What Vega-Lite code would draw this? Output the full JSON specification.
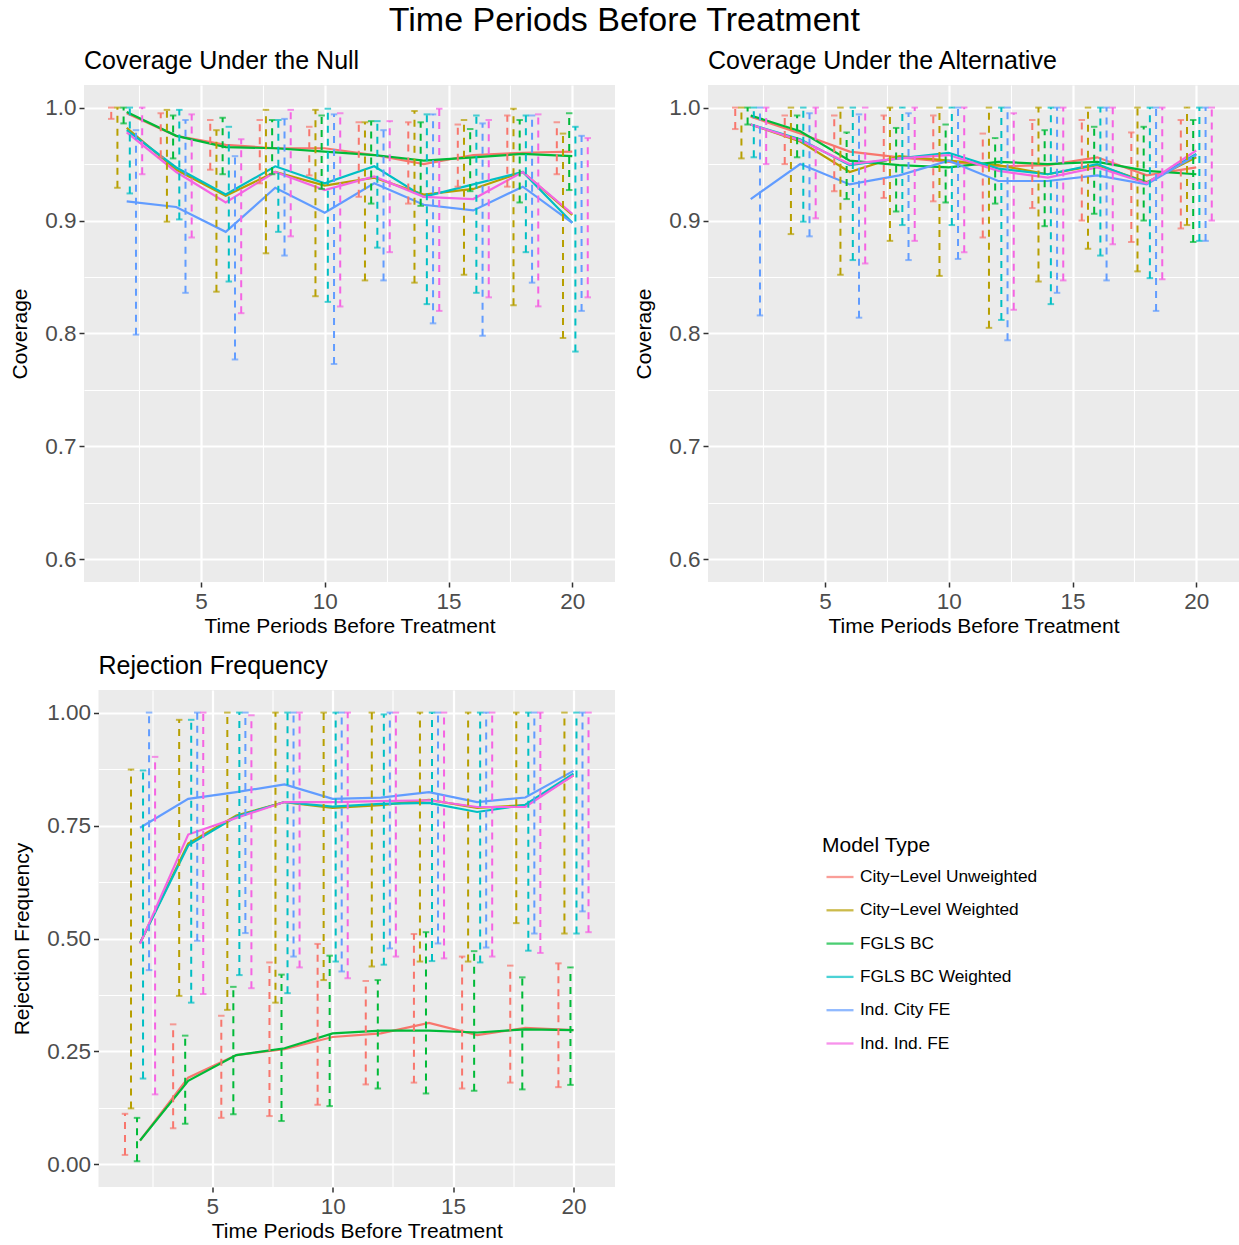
{
  "$schema": "https://vega.github.io/schema/vega-lite/v6.json",
  "padding": {"left": 9, "top": 4, "right": 0, "bottom": 0},
  "background": "white",
  "title": {"text": "Time Periods Before Treatment", "fontSize": 34, "fontWeight": "normal", "color": "black", "anchor": "middle", "offset": 11},
  "datasets": {
    "d": [
      {"p":"N","t":2,"m":"City−Level Unweighted","y":0.995,"lo":0.990,"hi":1.0},
      {"p":"N","t":2,"m":"City−Level Weighted","y":0.982,"lo":0.929,"hi":1.0},
      {"p":"N","t":2,"m":"FGLS BC","y":0.996,"lo":0.986,"hi":1.0},
      {"p":"N","t":2,"m":"FGLS BC Weighted","y":0.980,"lo":0.924,"hi":1.0},
      {"p":"N","t":2,"m":"Ind. City FE","y":0.917,"lo":0.799,"hi":0.980},
      {"p":"N","t":2,"m":"Ind. Ind. FE","y":0.978,"lo":0.941,"hi":1.0},
      {"p":"N","t":4,"m":"City−Level Unweighted","y":0.975,"lo":0.956,"hi":0.995},
      {"p":"N","t":4,"m":"City−Level Weighted","y":0.945,"lo":0.899,"hi":0.998},
      {"p":"N","t":4,"m":"FGLS BC","y":0.975,"lo":0.955,"hi":0.993},
      {"p":"N","t":4,"m":"FGLS BC Weighted","y":0.947,"lo":0.901,"hi":0.998},
      {"p":"N","t":4,"m":"Ind. City FE","y":0.912,"lo":0.836,"hi":0.989},
      {"p":"N","t":4,"m":"Ind. Ind. FE","y":0.943,"lo":0.885,"hi":0.994},
      {"p":"N","t":6,"m":"City−Level Unweighted","y":0.967,"lo":0.945,"hi":0.989},
      {"p":"N","t":6,"m":"City−Level Weighted","y":0.922,"lo":0.837,"hi":0.980},
      {"p":"N","t":6,"m":"FGLS BC","y":0.965,"lo":0.941,"hi":0.991},
      {"p":"N","t":6,"m":"FGLS BC Weighted","y":0.923,"lo":0.846,"hi":0.983},
      {"p":"N","t":6,"m":"Ind. City FE","y":0.890,"lo":0.777,"hi":0.957},
      {"p":"N","t":6,"m":"Ind. Ind. FE","y":0.916,"lo":0.818,"hi":0.972},
      {"p":"N","t":8,"m":"City−Level Unweighted","y":0.964,"lo":0.933,"hi":0.989},
      {"p":"N","t":8,"m":"City−Level Weighted","y":0.943,"lo":0.871,"hi":0.998},
      {"p":"N","t":8,"m":"FGLS BC","y":0.964,"lo":0.941,"hi":0.989},
      {"p":"N","t":8,"m":"FGLS BC Weighted","y":0.948,"lo":0.890,"hi":0.989},
      {"p":"N","t":8,"m":"Ind. City FE","y":0.929,"lo":0.869,"hi":0.990},
      {"p":"N","t":8,"m":"Ind. Ind. FE","y":0.943,"lo":0.886,"hi":0.998},
      {"p":"N","t":10,"m":"City−Level Unweighted","y":0.964,"lo":0.940,"hi":0.983},
      {"p":"N","t":10,"m":"City−Level Weighted","y":0.931,"lo":0.833,"hi":0.998},
      {"p":"N","t":10,"m":"FGLS BC","y":0.961,"lo":0.928,"hi":0.993},
      {"p":"N","t":10,"m":"FGLS BC Weighted","y":0.933,"lo":0.828,"hi":0.999},
      {"p":"N","t":10,"m":"Ind. City FE","y":0.907,"lo":0.773,"hi":0.994},
      {"p":"N","t":10,"m":"Ind. Ind. FE","y":0.927,"lo":0.824,"hi":0.995},
      {"p":"N","t":12,"m":"City−Level Unweighted","y":0.958,"lo":0.921,"hi":0.987},
      {"p":"N","t":12,"m":"City−Level Weighted","y":0.938,"lo":0.847,"hi":0.987},
      {"p":"N","t":12,"m":"FGLS BC","y":0.958,"lo":0.915,"hi":0.988},
      {"p":"N","t":12,"m":"FGLS BC Weighted","y":0.948,"lo":0.876,"hi":0.988},
      {"p":"N","t":12,"m":"Ind. City FE","y":0.933,"lo":0.847,"hi":0.980},
      {"p":"N","t":12,"m":"Ind. Ind. FE","y":0.939,"lo":0.872,"hi":0.988},
      {"p":"N","t":14,"m":"City−Level Unweighted","y":0.950,"lo":0.915,"hi":0.987},
      {"p":"N","t":14,"m":"City−Level Weighted","y":0.923,"lo":0.845,"hi":0.997},
      {"p":"N","t":14,"m":"FGLS BC","y":0.953,"lo":0.913,"hi":0.987},
      {"p":"N","t":14,"m":"FGLS BC Weighted","y":0.921,"lo":0.826,"hi":0.994},
      {"p":"N","t":14,"m":"Ind. City FE","y":0.914,"lo":0.809,"hi":0.994},
      {"p":"N","t":14,"m":"Ind. Ind. FE","y":0.921,"lo":0.820,"hi":0.999},
      {"p":"N","t":16,"m":"City−Level Unweighted","y":0.958,"lo":0.930,"hi":0.985},
      {"p":"N","t":16,"m":"City−Level Weighted","y":0.928,"lo":0.852,"hi":0.989},
      {"p":"N","t":16,"m":"FGLS BC","y":0.956,"lo":0.926,"hi":0.981},
      {"p":"N","t":16,"m":"FGLS BC Weighted","y":0.932,"lo":0.836,"hi":0.993},
      {"p":"N","t":16,"m":"Ind. City FE","y":0.909,"lo":0.798,"hi":0.986},
      {"p":"N","t":16,"m":"Ind. Ind. FE","y":0.919,"lo":0.832,"hi":0.989},
      {"p":"N","t":18,"m":"City−Level Unweighted","y":0.960,"lo":0.930,"hi":0.993},
      {"p":"N","t":18,"m":"City−Level Weighted","y":0.943,"lo":0.825,"hi":0.999},
      {"p":"N","t":18,"m":"FGLS BC","y":0.959,"lo":0.916,"hi":0.989},
      {"p":"N","t":18,"m":"FGLS BC Weighted","y":0.943,"lo":0.872,"hi":0.993},
      {"p":"N","t":18,"m":"Ind. City FE","y":0.930,"lo":0.845,"hi":0.993},
      {"p":"N","t":18,"m":"Ind. Ind. FE","y":0.943,"lo":0.824,"hi":0.994},
      {"p":"N","t":20,"m":"City−Level Unweighted","y":0.961,"lo":0.941,"hi":0.987},
      {"p":"N","t":20,"m":"City−Level Weighted","y":0.905,"lo":0.796,"hi":0.977},
      {"p":"N","t":20,"m":"FGLS BC","y":0.957,"lo":0.927,"hi":0.995},
      {"p":"N","t":20,"m":"FGLS BC Weighted","y":0.898,"lo":0.784,"hi":0.983},
      {"p":"N","t":20,"m":"Ind. City FE","y":0.898,"lo":0.820,"hi":0.975},
      {"p":"N","t":20,"m":"Ind. Ind. FE","y":0.906,"lo":0.832,"hi":0.973},

      {"p":"A","t":2,"m":"City−Level Unweighted","y":0.992,"lo":0.981,"hi":1.0},
      {"p":"A","t":2,"m":"City−Level Weighted","y":0.985,"lo":0.955,"hi":1.0},
      {"p":"A","t":2,"m":"FGLS BC","y":0.993,"lo":0.985,"hi":1.0},
      {"p":"A","t":2,"m":"FGLS BC Weighted","y":0.985,"lo":0.956,"hi":1.0},
      {"p":"A","t":2,"m":"Ind. City FE","y":0.919,"lo":0.816,"hi":1.0},
      {"p":"A","t":2,"m":"Ind. Ind. FE","y":0.985,"lo":0.950,"hi":1.0},
      {"p":"A","t":4,"m":"City−Level Unweighted","y":0.977,"lo":0.950,"hi":0.993},
      {"p":"A","t":4,"m":"City−Level Weighted","y":0.970,"lo":0.888,"hi":1.0},
      {"p":"A","t":4,"m":"FGLS BC","y":0.979,"lo":0.956,"hi":0.993},
      {"p":"A","t":4,"m":"FGLS BC Weighted","y":0.972,"lo":0.899,"hi":1.0},
      {"p":"A","t":4,"m":"Ind. City FE","y":0.950,"lo":0.886,"hi":0.995},
      {"p":"A","t":4,"m":"Ind. Ind. FE","y":0.971,"lo":0.902,"hi":1.0},
      {"p":"A","t":6,"m":"City−Level Unweighted","y":0.961,"lo":0.926,"hi":0.993},
      {"p":"A","t":6,"m":"City−Level Weighted","y":0.943,"lo":0.852,"hi":1.0},
      {"p":"A","t":6,"m":"FGLS BC","y":0.953,"lo":0.919,"hi":0.978},
      {"p":"A","t":6,"m":"FGLS BC Weighted","y":0.949,"lo":0.865,"hi":1.0},
      {"p":"A","t":6,"m":"Ind. City FE","y":0.932,"lo":0.814,"hi":0.994},
      {"p":"A","t":6,"m":"Ind. Ind. FE","y":0.950,"lo":0.862,"hi":1.0},
      {"p":"A","t":8,"m":"City−Level Unweighted","y":0.956,"lo":0.920,"hi":0.993},
      {"p":"A","t":8,"m":"City−Level Weighted","y":0.957,"lo":0.882,"hi":1.0},
      {"p":"A","t":8,"m":"FGLS BC","y":0.949,"lo":0.908,"hi":0.982},
      {"p":"A","t":8,"m":"FGLS BC Weighted","y":0.955,"lo":0.896,"hi":1.0},
      {"p":"A","t":8,"m":"Ind. City FE","y":0.940,"lo":0.865,"hi":0.995},
      {"p":"A","t":8,"m":"Ind. Ind. FE","y":0.955,"lo":0.882,"hi":1.0},
      {"p":"A","t":10,"m":"City−Level Unweighted","y":0.952,"lo":0.917,"hi":0.993},
      {"p":"A","t":10,"m":"City−Level Weighted","y":0.953,"lo":0.851,"hi":1.0},
      {"p":"A","t":10,"m":"FGLS BC","y":0.947,"lo":0.916,"hi":0.985},
      {"p":"A","t":10,"m":"FGLS BC Weighted","y":0.960,"lo":0.896,"hi":1.0},
      {"p":"A","t":10,"m":"Ind. City FE","y":0.953,"lo":0.866,"hi":1.0},
      {"p":"A","t":10,"m":"Ind. Ind. FE","y":0.958,"lo":0.872,"hi":1.0},
      {"p":"A","t":12,"m":"City−Level Unweighted","y":0.948,"lo":0.885,"hi":0.977},
      {"p":"A","t":12,"m":"City−Level Weighted","y":0.949,"lo":0.805,"hi":1.0},
      {"p":"A","t":12,"m":"FGLS BC","y":0.952,"lo":0.915,"hi":0.973},
      {"p":"A","t":12,"m":"FGLS BC Weighted","y":0.946,"lo":0.812,"hi":1.0},
      {"p":"A","t":12,"m":"Ind. City FE","y":0.935,"lo":0.794,"hi":1.0},
      {"p":"A","t":12,"m":"Ind. Ind. FE","y":0.944,"lo":0.821,"hi":0.995},
      {"p":"A","t":14,"m":"City−Level Unweighted","y":0.949,"lo":0.911,"hi":0.989},
      {"p":"A","t":14,"m":"City−Level Weighted","y":0.941,"lo":0.846,"hi":1.0},
      {"p":"A","t":14,"m":"FGLS BC","y":0.950,"lo":0.895,"hi":0.980},
      {"p":"A","t":14,"m":"FGLS BC Weighted","y":0.941,"lo":0.826,"hi":1.0},
      {"p":"A","t":14,"m":"Ind. City FE","y":0.935,"lo":0.836,"hi":1.0},
      {"p":"A","t":14,"m":"Ind. Ind. FE","y":0.938,"lo":0.847,"hi":1.0},
      {"p":"A","t":16,"m":"City−Level Unweighted","y":0.956,"lo":0.900,"hi":0.989},
      {"p":"A","t":16,"m":"City−Level Weighted","y":0.949,"lo":0.875,"hi":1.0},
      {"p":"A","t":16,"m":"FGLS BC","y":0.952,"lo":0.906,"hi":0.983},
      {"p":"A","t":16,"m":"FGLS BC Weighted","y":0.950,"lo":0.869,"hi":1.0},
      {"p":"A","t":16,"m":"Ind. City FE","y":0.940,"lo":0.847,"hi":1.0},
      {"p":"A","t":16,"m":"Ind. Ind. FE","y":0.947,"lo":0.879,"hi":1.0},
      {"p":"A","t":18,"m":"City−Level Unweighted","y":0.940,"lo":0.881,"hi":0.978},
      {"p":"A","t":18,"m":"City−Level Weighted","y":0.934,"lo":0.855,"hi":1.0},
      {"p":"A","t":18,"m":"FGLS BC","y":0.944,"lo":0.900,"hi":0.983},
      {"p":"A","t":18,"m":"FGLS BC Weighted","y":0.933,"lo":0.849,"hi":1.0},
      {"p":"A","t":18,"m":"Ind. City FE","y":0.932,"lo":0.820,"hi":1.0},
      {"p":"A","t":18,"m":"Ind. Ind. FE","y":0.933,"lo":0.848,"hi":1.0},
      {"p":"A","t":20,"m":"City−Level Unweighted","y":0.947,"lo":0.893,"hi":0.989},
      {"p":"A","t":20,"m":"City−Level Weighted","y":0.956,"lo":0.896,"hi":1.0},
      {"p":"A","t":20,"m":"FGLS BC","y":0.941,"lo":0.881,"hi":0.989},
      {"p":"A","t":20,"m":"FGLS BC Weighted","y":0.959,"lo":0.882,"hi":1.0},
      {"p":"A","t":20,"m":"Ind. City FE","y":0.958,"lo":0.882,"hi":1.0},
      {"p":"A","t":20,"m":"Ind. Ind. FE","y":0.962,"lo":0.900,"hi":1.0},

      {"p":"R","t":2,"m":"City−Level Unweighted","y":0.053,"lo":0.021,"hi":0.112},
      {"p":"R","t":2,"m":"City−Level Weighted","y":0.490,"lo":0.124,"hi":0.874},
      {"p":"R","t":2,"m":"FGLS BC","y":0.053,"lo":0.007,"hi":0.103},
      {"p":"R","t":2,"m":"FGLS BC Weighted","y":0.490,"lo":0.190,"hi":0.872},
      {"p":"R","t":2,"m":"Ind. City FE","y":0.745,"lo":0.430,"hi":1.0},
      {"p":"R","t":2,"m":"Ind. Ind. FE","y":0.488,"lo":0.155,"hi":0.902},
      {"p":"R","t":4,"m":"City−Level Unweighted","y":0.192,"lo":0.080,"hi":0.310},
      {"p":"R","t":4,"m":"City−Level Weighted","y":0.710,"lo":0.373,"hi":0.984},
      {"p":"R","t":4,"m":"FGLS BC","y":0.185,"lo":0.090,"hi":0.285},
      {"p":"R","t":4,"m":"FGLS BC Weighted","y":0.706,"lo":0.358,"hi":0.984},
      {"p":"R","t":4,"m":"Ind. City FE","y":0.809,"lo":0.495,"hi":1.0},
      {"p":"R","t":4,"m":"Ind. Ind. FE","y":0.730,"lo":0.377,"hi":1.0},
      {"p":"R","t":6,"m":"City−Level Unweighted","y":0.242,"lo":0.103,"hi":0.329},
      {"p":"R","t":6,"m":"City−Level Weighted","y":0.772,"lo":0.342,"hi":1.0},
      {"p":"R","t":6,"m":"FGLS BC","y":0.242,"lo":0.111,"hi":0.393},
      {"p":"R","t":6,"m":"FGLS BC Weighted","y":0.770,"lo":0.419,"hi":1.0},
      {"p":"R","t":6,"m":"Ind. City FE","y":0.824,"lo":0.512,"hi":1.0},
      {"p":"R","t":6,"m":"Ind. Ind. FE","y":0.767,"lo":0.390,"hi":0.994},
      {"p":"R","t":8,"m":"City−Level Unweighted","y":0.255,"lo":0.107,"hi":0.447},
      {"p":"R","t":8,"m":"City−Level Weighted","y":0.802,"lo":0.358,"hi":1.0},
      {"p":"R","t":8,"m":"FGLS BC","y":0.257,"lo":0.096,"hi":0.420},
      {"p":"R","t":8,"m":"FGLS BC Weighted","y":0.802,"lo":0.379,"hi":1.0},
      {"p":"R","t":8,"m":"Ind. City FE","y":0.841,"lo":0.460,"hi":1.0},
      {"p":"R","t":8,"m":"Ind. Ind. FE","y":0.802,"lo":0.436,"hi":1.0},
      {"p":"R","t":10,"m":"City−Level Unweighted","y":0.282,"lo":0.132,"hi":0.488},
      {"p":"R","t":10,"m":"City−Level Weighted","y":0.789,"lo":0.408,"hi":1.0},
      {"p":"R","t":10,"m":"FGLS BC","y":0.290,"lo":0.129,"hi":0.462},
      {"p":"R","t":10,"m":"FGLS BC Weighted","y":0.792,"lo":0.449,"hi":1.0},
      {"p":"R","t":10,"m":"Ind. City FE","y":0.809,"lo":0.427,"hi":1.0},
      {"p":"R","t":10,"m":"Ind. Ind. FE","y":0.802,"lo":0.412,"hi":1.0},
      {"p":"R","t":12,"m":"City−Level Unweighted","y":0.290,"lo":0.177,"hi":0.406},
      {"p":"R","t":12,"m":"City−Level Weighted","y":0.795,"lo":0.438,"hi":1.0},
      {"p":"R","t":12,"m":"FGLS BC","y":0.296,"lo":0.168,"hi":0.408},
      {"p":"R","t":12,"m":"FGLS BC Weighted","y":0.798,"lo":0.442,"hi":0.996},
      {"p":"R","t":12,"m":"Ind. City FE","y":0.812,"lo":0.478,"hi":1.0},
      {"p":"R","t":12,"m":"Ind. Ind. FE","y":0.804,"lo":0.460,"hi":1.0},
      {"p":"R","t":14,"m":"City−Level Unweighted","y":0.313,"lo":0.181,"hi":0.510},
      {"p":"R","t":14,"m":"City−Level Weighted","y":0.807,"lo":0.449,"hi":1.0},
      {"p":"R","t":14,"m":"FGLS BC","y":0.296,"lo":0.157,"hi":0.514},
      {"p":"R","t":14,"m":"FGLS BC Weighted","y":0.800,"lo":0.450,"hi":1.0},
      {"p":"R","t":14,"m":"Ind. City FE","y":0.824,"lo":0.489,"hi":1.0},
      {"p":"R","t":14,"m":"Ind. Ind. FE","y":0.806,"lo":0.456,"hi":1.0},
      {"p":"R","t":16,"m":"City−Level Unweighted","y":0.286,"lo":0.168,"hi":0.460},
      {"p":"R","t":16,"m":"City−Level Weighted","y":0.789,"lo":0.449,"hi":1.0},
      {"p":"R","t":16,"m":"FGLS BC","y":0.292,"lo":0.163,"hi":0.472},
      {"p":"R","t":16,"m":"FGLS BC Weighted","y":0.780,"lo":0.447,"hi":1.0},
      {"p":"R","t":16,"m":"Ind. City FE","y":0.802,"lo":0.480,"hi":1.0},
      {"p":"R","t":16,"m":"Ind. Ind. FE","y":0.791,"lo":0.460,"hi":1.0},
      {"p":"R","t":18,"m":"City−Level Unweighted","y":0.302,"lo":0.181,"hi":0.440},
      {"p":"R","t":18,"m":"City−Level Weighted","y":0.795,"lo":0.534,"hi":1.0},
      {"p":"R","t":18,"m":"FGLS BC","y":0.299,"lo":0.166,"hi":0.414},
      {"p":"R","t":18,"m":"FGLS BC Weighted","y":0.796,"lo":0.473,"hi":1.0},
      {"p":"R","t":18,"m":"Ind. City FE","y":0.812,"lo":0.511,"hi":1.0},
      {"p":"R","t":18,"m":"Ind. Ind. FE","y":0.791,"lo":0.468,"hi":1.0},
      {"p":"R","t":20,"m":"City−Level Unweighted","y":0.297,"lo":0.171,"hi":0.445},
      {"p":"R","t":20,"m":"City−Level Weighted","y":0.861,"lo":0.511,"hi":1.0},
      {"p":"R","t":20,"m":"FGLS BC","y":0.297,"lo":0.176,"hi":0.436},
      {"p":"R","t":20,"m":"FGLS BC Weighted","y":0.865,"lo":0.511,"hi":1.0},
      {"p":"R","t":20,"m":"Ind. City FE","y":0.871,"lo":0.560,"hi":1.0},
      {"p":"R","t":20,"m":"Ind. Ind. FE","y":0.861,"lo":0.514,"hi":1.0}
    ]
  },
  "spacing": 17,
  "vconcat": [
    {
      "spacing": 18,
      "hconcat": [
        {
          "width": 531, "height": 497,
          "title": {"text": "Coverage Under the Null", "anchor": "start", "frame": "group", "fontSize": 25, "fontWeight": "normal", "color": "black", "offset": 11},
          "data": {"name": "d"},
          "transform": [{"filter": "datum.p === 'N'"},
            {"calculate": "datum.t + (indexof(['City−Level Unweighted','City−Level Weighted','FGLS BC','FGLS BC Weighted','Ind. City FE','Ind. Ind. FE'], datum.m) - 2.5) * 0.25", "as": "xd"}],
          "encoding": {
            "color": {"field": "m", "type": "nominal", "title": "Model Type",
              "scale": {"domain": ["City−Level Unweighted", "City−Level Weighted", "FGLS BC", "FGLS BC Weighted", "Ind. City FE", "Ind. Ind. FE"],
                "range": ["#F8766D", "#B79F00", "#00BA38", "#00BFC4", "#619CFF", "#F564E3"]},
              "legend": {"orient": "none", "legendX": 738, "legendY": 750}}
          },
          "layer": [
            {"mark": {"type": "line", "strokeWidth": 2.2},
              "encoding": {
                "x": {"field": "t", "type": "quantitative", "title": "Time Periods Before Treatment",
                  "scale": {"domain": [0.275, 21.725], "nice": false, "zero": false},
                  "axis": {"values": [2.5, 5, 7.5, 10, 12.5, 15, 17.5, 20], "labelExpr": "datum.value % 5 === 0 ? format(datum.value, 'd') : ''",
                    "gridWidth": {"condition": {"test": "datum.value % 5 === 0", "value": 2.2}, "value": 1.1},
                    "tickOpacity": {"condition": {"test": "datum.value % 5 === 0", "value": 1}, "value": 0}}},
                "y": {"field": "y", "type": "quantitative", "title": "Coverage",
                  "scale": {"domain": [0.58, 1.02], "nice": false, "zero": false},
                  "axis": {"values": [0.6, 0.65, 0.7, 0.75, 0.8, 0.85, 0.9, 0.95, 1.0],
                    "labelExpr": "round(datum.value*100) % 10 === 0 ? format(datum.value, '.1f') : ''",
                    "gridWidth": {"condition": {"test": "round(datum.value*100) % 10 === 0", "value": 2.2}, "value": 1.1},
                    "tickOpacity": {"condition": {"test": "round(datum.value*100) % 10 === 0", "value": 1}, "value": 0}}}}},
            {"mark": {"type": "rule", "strokeWidth": 2, "strokeDash": [7, 6]},
              "encoding": {"x": {"field": "xd", "type": "quantitative", "title": "Time Periods Before Treatment", "scale": {"domain": [0.275, 21.725], "nice": false, "zero": false}},
                "y": {"field": "lo", "type": "quantitative", "title": "Coverage"}, "y2": {"field": "hi"}}},
            {"mark": {"type": "tick", "orient": "horizontal", "size": 6.5, "thickness": 2},
              "encoding": {"x": {"field": "xd", "type": "quantitative", "title": "Time Periods Before Treatment", "scale": {"domain": [0.275, 21.725], "nice": false, "zero": false}},
                "y": {"field": "lo", "type": "quantitative", "title": "Coverage"}}},
            {"mark": {"type": "tick", "orient": "horizontal", "size": 6.5, "thickness": 2},
              "encoding": {"x": {"field": "xd", "type": "quantitative", "title": "Time Periods Before Treatment", "scale": {"domain": [0.275, 21.725], "nice": false, "zero": false}},
                "y": {"field": "hi", "type": "quantitative", "title": "Coverage"}}}
          ]
        },
        {
          "width": 531, "height": 497,
          "title": {"text": "Coverage Under the Alternative", "anchor": "start", "frame": "group", "fontSize": 25, "fontWeight": "normal", "color": "black", "offset": 11},
          "data": {"name": "d"},
          "transform": [{"filter": "datum.p === 'A'"},
            {"calculate": "datum.t + (indexof(['City−Level Unweighted','City−Level Weighted','FGLS BC','FGLS BC Weighted','Ind. City FE','Ind. Ind. FE'], datum.m) - 2.5) * 0.25", "as": "xd"}],
          "encoding": {
            "color": {"field": "m", "type": "nominal", "title": "Model Type"}
          },
          "layer": [
            {"mark": {"type": "line", "strokeWidth": 2.2},
              "encoding": {
                "x": {"field": "t", "type": "quantitative", "title": "Time Periods Before Treatment",
                  "scale": {"domain": [0.275, 21.725], "nice": false, "zero": false},
                  "axis": {"values": [2.5, 5, 7.5, 10, 12.5, 15, 17.5, 20], "labelExpr": "datum.value % 5 === 0 ? format(datum.value, 'd') : ''",
                    "gridWidth": {"condition": {"test": "datum.value % 5 === 0", "value": 2.2}, "value": 1.1},
                    "tickOpacity": {"condition": {"test": "datum.value % 5 === 0", "value": 1}, "value": 0}}},
                "y": {"field": "y", "type": "quantitative", "title": "Coverage",
                  "scale": {"domain": [0.58, 1.02], "nice": false, "zero": false},
                  "axis": {"values": [0.6, 0.65, 0.7, 0.75, 0.8, 0.85, 0.9, 0.95, 1.0],
                    "labelExpr": "round(datum.value*100) % 10 === 0 ? format(datum.value, '.1f') : ''",
                    "gridWidth": {"condition": {"test": "round(datum.value*100) % 10 === 0", "value": 2.2}, "value": 1.1},
                    "tickOpacity": {"condition": {"test": "round(datum.value*100) % 10 === 0", "value": 1}, "value": 0}}}}},
            {"mark": {"type": "rule", "strokeWidth": 2, "strokeDash": [7, 6]},
              "encoding": {"x": {"field": "xd", "type": "quantitative", "title": "Time Periods Before Treatment", "scale": {"domain": [0.275, 21.725], "nice": false, "zero": false}},
                "y": {"field": "lo", "type": "quantitative", "title": "Coverage"}, "y2": {"field": "hi"}}},
            {"mark": {"type": "tick", "orient": "horizontal", "size": 6.5, "thickness": 2},
              "encoding": {"x": {"field": "xd", "type": "quantitative", "title": "Time Periods Before Treatment", "scale": {"domain": [0.275, 21.725], "nice": false, "zero": false}},
                "y": {"field": "lo", "type": "quantitative", "title": "Coverage"}}},
            {"mark": {"type": "tick", "orient": "horizontal", "size": 6.5, "thickness": 2},
              "encoding": {"x": {"field": "xd", "type": "quantitative", "title": "Time Periods Before Treatment", "scale": {"domain": [0.275, 21.725], "nice": false, "zero": false}},
                "y": {"field": "hi", "type": "quantitative", "title": "Coverage"}}}
          ]
        }
      ]
    },
    {
      "spacing": -73.5,
      "hconcat": [
        {
          "width": 1, "height": 497,
          "view": {"fill": null, "stroke": null},
          "data": {"values": []},
          "mark": "point"
        },
        {
          "width": 516.5, "height": 497,
          "title": {"text": "Rejection Frequency", "anchor": "start", "frame": "group", "fontSize": 25, "fontWeight": "normal", "color": "black", "offset": 11},
          "data": {"name": "d"},
          "transform": [{"filter": "datum.p === 'R'"},
            {"calculate": "datum.t + (indexof(['City−Level Unweighted','City−Level Weighted','FGLS BC','FGLS BC Weighted','Ind. City FE','Ind. Ind. FE'], datum.m) - 2.5) * 0.25", "as": "xd"}],
          "encoding": {
            "color": {"field": "m", "type": "nominal", "title": "Model Type"}
          },
          "layer": [
            {"mark": {"type": "line", "strokeWidth": 2.2},
              "encoding": {
                "x": {"field": "t", "type": "quantitative", "title": "Time Periods Before Treatment",
                  "scale": {"domain": [0.275, 21.725], "nice": false, "zero": false},
                  "axis": {"values": [2.5, 5, 7.5, 10, 12.5, 15, 17.5, 20], "labelExpr": "datum.value % 5 === 0 ? format(datum.value, 'd') : ''",
                    "gridWidth": {"condition": {"test": "datum.value % 5 === 0", "value": 2.2}, "value": 1.1},
                    "tickOpacity": {"condition": {"test": "datum.value % 5 === 0", "value": 1}, "value": 0}}},
                "y": {"field": "y", "type": "quantitative", "title": "Rejection Frequency",
                  "scale": {"domain": [-0.05, 1.05], "nice": false, "zero": false},
                  "axis": {"values": [0, 0.125, 0.25, 0.375, 0.5, 0.625, 0.75, 0.875, 1.0],
                    "labelExpr": "round(datum.value*1000) % 250 === 0 ? format(datum.value, '.2f') : ''",
                    "gridWidth": {"condition": {"test": "round(datum.value*1000) % 250 === 0", "value": 2.2}, "value": 1.1},
                    "tickOpacity": {"condition": {"test": "round(datum.value*1000) % 250 === 0", "value": 1}, "value": 0}}}}},
            {"mark": {"type": "rule", "strokeWidth": 2, "strokeDash": [7, 6]},
              "encoding": {"x": {"field": "xd", "type": "quantitative", "title": "Time Periods Before Treatment", "scale": {"domain": [0.275, 21.725], "nice": false, "zero": false}},
                "y": {"field": "lo", "type": "quantitative", "title": "Rejection Frequency"}, "y2": {"field": "hi"}}},
            {"mark": {"type": "tick", "orient": "horizontal", "size": 6.5, "thickness": 2},
              "encoding": {"x": {"field": "xd", "type": "quantitative", "title": "Time Periods Before Treatment", "scale": {"domain": [0.275, 21.725], "nice": false, "zero": false}},
                "y": {"field": "lo", "type": "quantitative", "title": "Rejection Frequency"}}},
            {"mark": {"type": "tick", "orient": "horizontal", "size": 6.5, "thickness": 2},
              "encoding": {"x": {"field": "xd", "type": "quantitative", "title": "Time Periods Before Treatment", "scale": {"domain": [0.275, 21.725], "nice": false, "zero": false}},
                "y": {"field": "hi", "type": "quantitative", "title": "Rejection Frequency"}}}
          ]
        }
      ]
    }
  ],
  "config": {
    "font": "Liberation Sans",
    "view": {"fill": "#EBEBEB", "stroke": null},
    "axis": {"domain": false, "gridColor": "#FFFFFF", "tickColor": "#333333", "tickSize": 5, "tickWidth": 1.5,
      "labelColor": "#4D4D4D", "labelFontSize": 22.5, "labelPadding": 3, "labelOverlap": false, "labelFlush": false,
      "titleFontSize": 21, "titleFontWeight": "normal", "titleColor": "#000000"},
    "axisX": {"titlePadding": 3},
    "axisY": {"titlePadding": 14},
    "legend": {"titleFontSize": 21, "titleFontWeight": "normal", "titleColor": "#000000", "labelFontSize": 17.3, "labelColor": "#000000", "labelLimit": 0,
      "symbolType": "stroke", "symbolSize": 729, "symbolStrokeWidth": 2.3, "symbolOffset": 3, "rowPadding": 9.3, "titlePadding": 6, "labelOffset": 5}
  }
}
